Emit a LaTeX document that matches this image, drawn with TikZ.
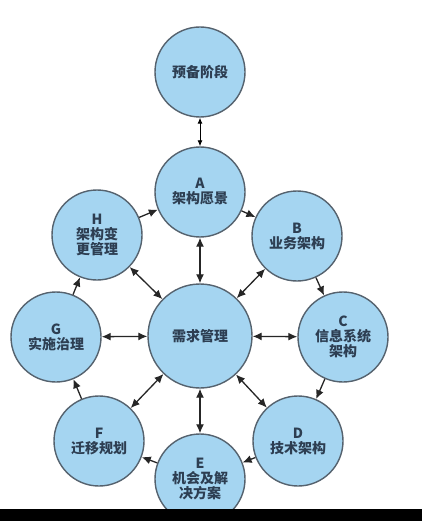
\documentclass[tikz,border=0pt]{standalone}
\usepackage{fontspec}
\setmainfont{Noto Sans CJK SC}
\usetikzlibrary{arrows.meta}
\definecolor{phasefill}{RGB}{165,213,241}
\definecolor{phaseline}{RGB}{85,98,110}
\definecolor{phasetext}{RGB}{45,62,82}

\begin{document}
\begin{tikzpicture}[x=1pt,y=-1pt,
    phase/.style={circle,draw=phaseline,line width=1.4pt,fill=phasefill,
      minimum size=90pt,inner sep=0pt,align=center,text=phasetext,
      font=\bfseries\fontsize{14}{15}\selectfont},
    link/.style={line width=1.3pt,draw=black!85},
    >={Latex[length=9pt,width=8pt]}]
    \useasboundingbox (0,0) rectangle (422,521);
    \fill[white] (0,0) rectangle (422,521);
    % phases
    \path (200,72) node[phase] (prep) {预备阶段};
    \path (200,192) node[phase] (A) {A\\架构愿景};
    \path (297,236) node[phase] (B) {B\\业务架构};
    \path (343,337) node[phase] (C) {C\\信息系统\\架构};
    \path (298,441) node[phase] (D) {D\\技术架构};
    \path (200,479) node[phase] (E) {E\\机会及解\\决方案};
    \path (99,441) node[phase] (F) {F\\迁移规划};
    \path (56,337) node[phase] (G) {G\\实施治理};
    \path (97,235) node[phase] (H) {H\\架构变\\更管理};
    \path (200,336) node[phase,minimum size=104pt] (req) {需求管理};
    % ring arrows
    \foreach \a/\b in {H/A,A/B,B/C,C/D,D/E,E/F,F/G,G/H}
      \draw[link,->] (\a) -- (\b);
    % arrows to the centre
    \foreach \p in {A,...,H}
      \draw[link,<->] (req) -- (\p);
    \draw[<->,line width=0.9pt,>={Latex[length=6pt,width=5pt]}] (prep) -- (A);
    % screen edge
    \fill[black] (0,509) rectangle (422,521);
\end{tikzpicture}
\end{document}
